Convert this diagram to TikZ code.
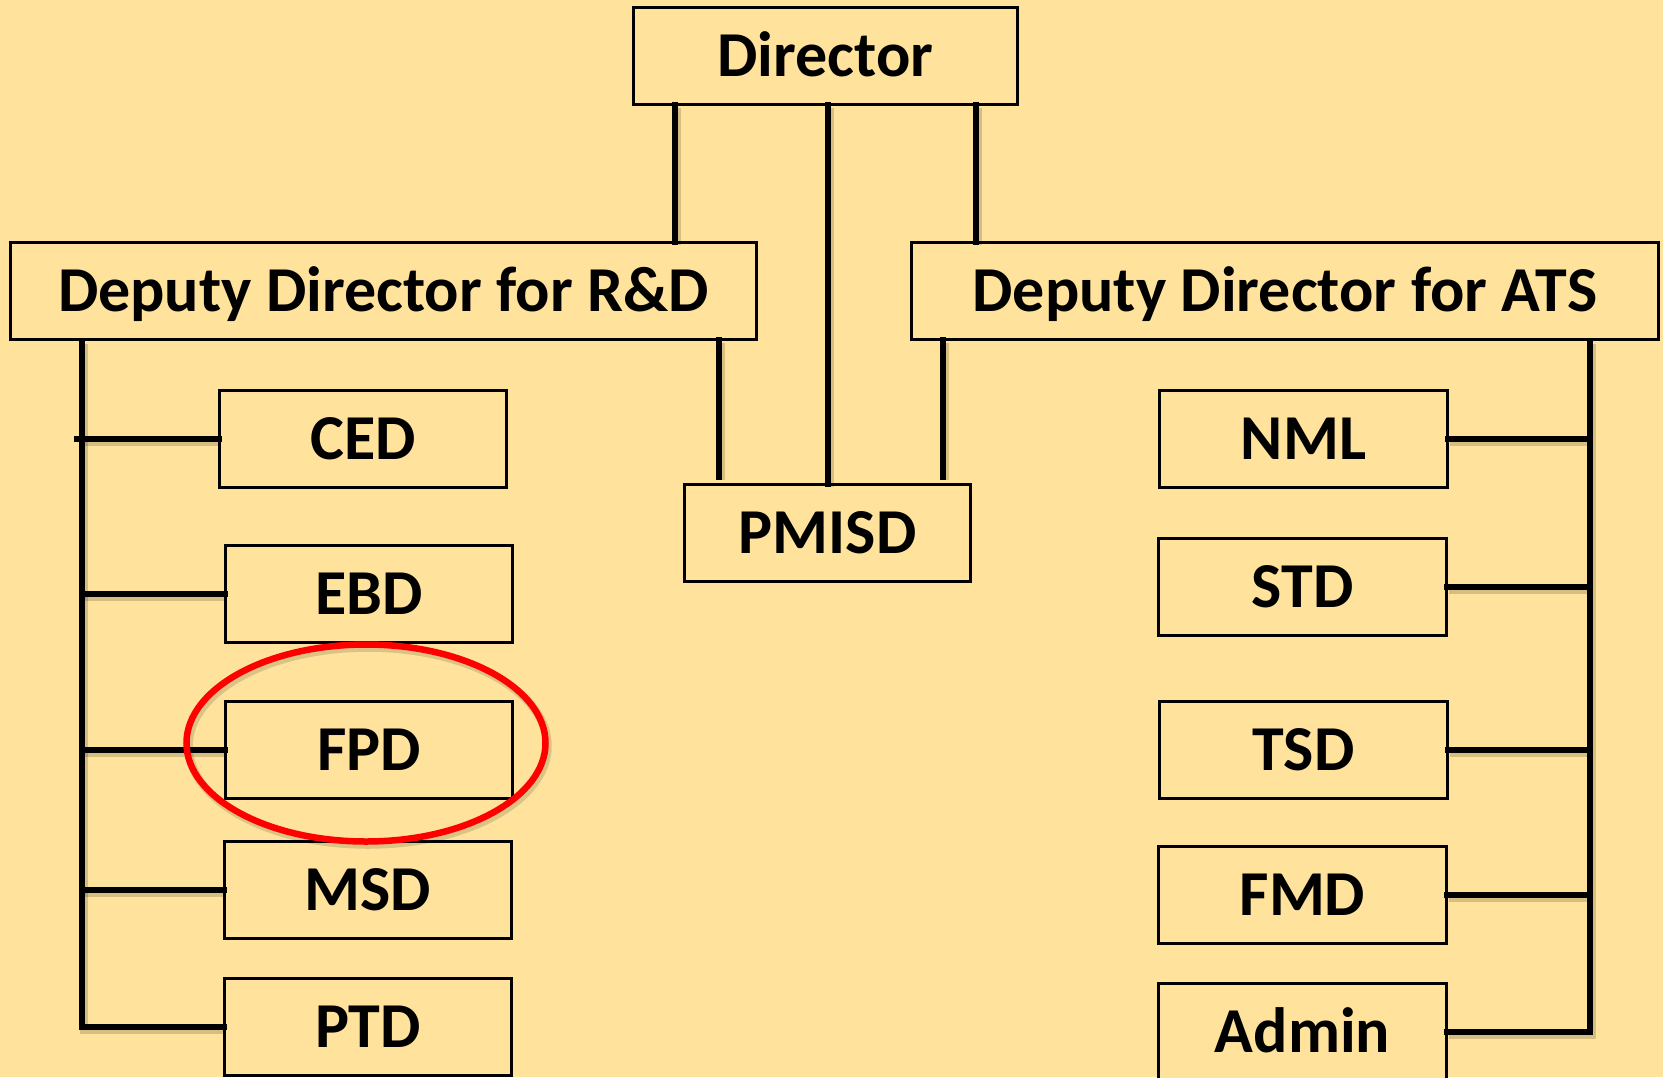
\documentclass[tikz,border=0pt]{standalone}
\usepackage{fontspec}
\setmainfont{Carlito}
\usetikzlibrary{shapes.geometric}
\definecolor{bgyellow}{RGB}{255,226,155}
\definecolor{ringred}{RGB}{255,0,0}
\tikzset{
  unitbox/.style={draw=black, line width=2pt, fill=bgyellow, inner sep=0pt,
    minimum height=96pt, text height=41.5pt, text depth=0pt,
    font=\fontsize{64}{76}\selectfont\bfseries},
  link/.style={line width=6pt, line cap=rect,
    preaction={draw=black, draw opacity=0.16, line width=8pt, transform canvas={shift={(2pt,-3pt)}}}},
}
\begin{document}
\begin{tikzpicture}[x=1pt, y=-1pt]
\fill[bgyellow] (0,0) rectangle (1663,1077);
\useasboundingbox (0,0) rectangle (1663,1077);

% nodes
\node[unitbox, minimum width=383pt] (dir) at (825.5,56) {Director};
\node[unitbox, minimum width=745pt] (rd) at (383.5,291) {Deputy Director for R\&D};
\node[unitbox, minimum width=746pt] (ats) at (1285,291) {Deputy Director for ATS};
\node[unitbox, minimum width=285pt] (pmisd) at (827.5,533) {PMISD};

\node[unitbox, minimum width=286pt] (ced) at (363,438.5) {CED};
\node[unitbox, minimum width=286pt] (ebd) at (369,593.5) {EBD};
\node[unitbox, minimum width=286pt] (fpd) at (369,749.5) {FPD};
\node[unitbox, minimum width=286pt] (msd) at (368,889.5) {MSD};
\node[unitbox, minimum width=286pt] (ptd) at (368,1027) {PTD};

\node[unitbox, minimum width=287pt] (nml) at (1303.5,438.5) {NML};
\node[unitbox, minimum width=287pt] (std) at (1302.5,587) {STD};
\node[unitbox, minimum width=287pt] (tsd) at (1303.5,749.5) {TSD};
\node[unitbox, minimum width=287pt] (fmd) at (1302.5,894.5) {FMD};
\node[unitbox, minimum width=287pt] (admin) at (1302.5,1032) {Admin};

% helper coordinates
\coordinate (ltop) at (82,341);
\coordinate (rtop) at (1590,341);
\coordinate (rdp) at (719,477);
\coordinate (atsp) at (943,477);

% connectors from director
\draw[link] (dir.south -| 675,0) -- (rd.north -| 675,0);
\draw[link] (dir.south -| 976,0) -- (ats.north -| 976,0);
\draw[link] (dir.south -| pmisd.north) -- (pmisd.north);

% deputies to PMISD
\draw[link] (rd.south -| rdp) -- (rdp);
\draw[link] (ats.south -| atsp) -- (atsp);

% left trunk
\draw[link] (ltop) -- (ptd.west -| ltop) -- (ptd.west);
\draw[link] (ced.west) -- (ced.west -| 77,0);
\draw[link] (ebd.west) -- (ebd.west -| ltop);
\draw[link] (fpd.west) -- (fpd.west -| ltop);
\draw[link] (msd.west) -- (msd.west -| ltop);

% right trunk
\draw[link] (rtop) -- (admin.east -| rtop) -- (admin.east);
\draw[link] (nml.east) -- (nml.east -| rtop);
\draw[link] (std.east) -- (std.east -| rtop);
\draw[link] (tsd.east) -- (tsd.east -| rtop);
\draw[link] (fmd.east) -- (fmd.east -| rtop);

% redraw box outlines on top of connector ends
\foreach \n in {dir,rd,ats,pmisd,ced,ebd,fpd,msd,ptd,nml,std,tsd,fmd,admin}{
  \draw[line width=2pt] (\n.north west) rectangle (\n.south east);
}

% highlight ring
\node[draw=ringred, line width=6.5pt, ellipse, minimum width=359pt, minimum height=197pt, inner sep=0pt,
  preaction={draw=black, draw opacity=0.14, line width=8.5pt, transform canvas={shift={(2pt,-3pt)}}}]
  (ring) at (366,743) {};
\end{tikzpicture}
\end{document}
